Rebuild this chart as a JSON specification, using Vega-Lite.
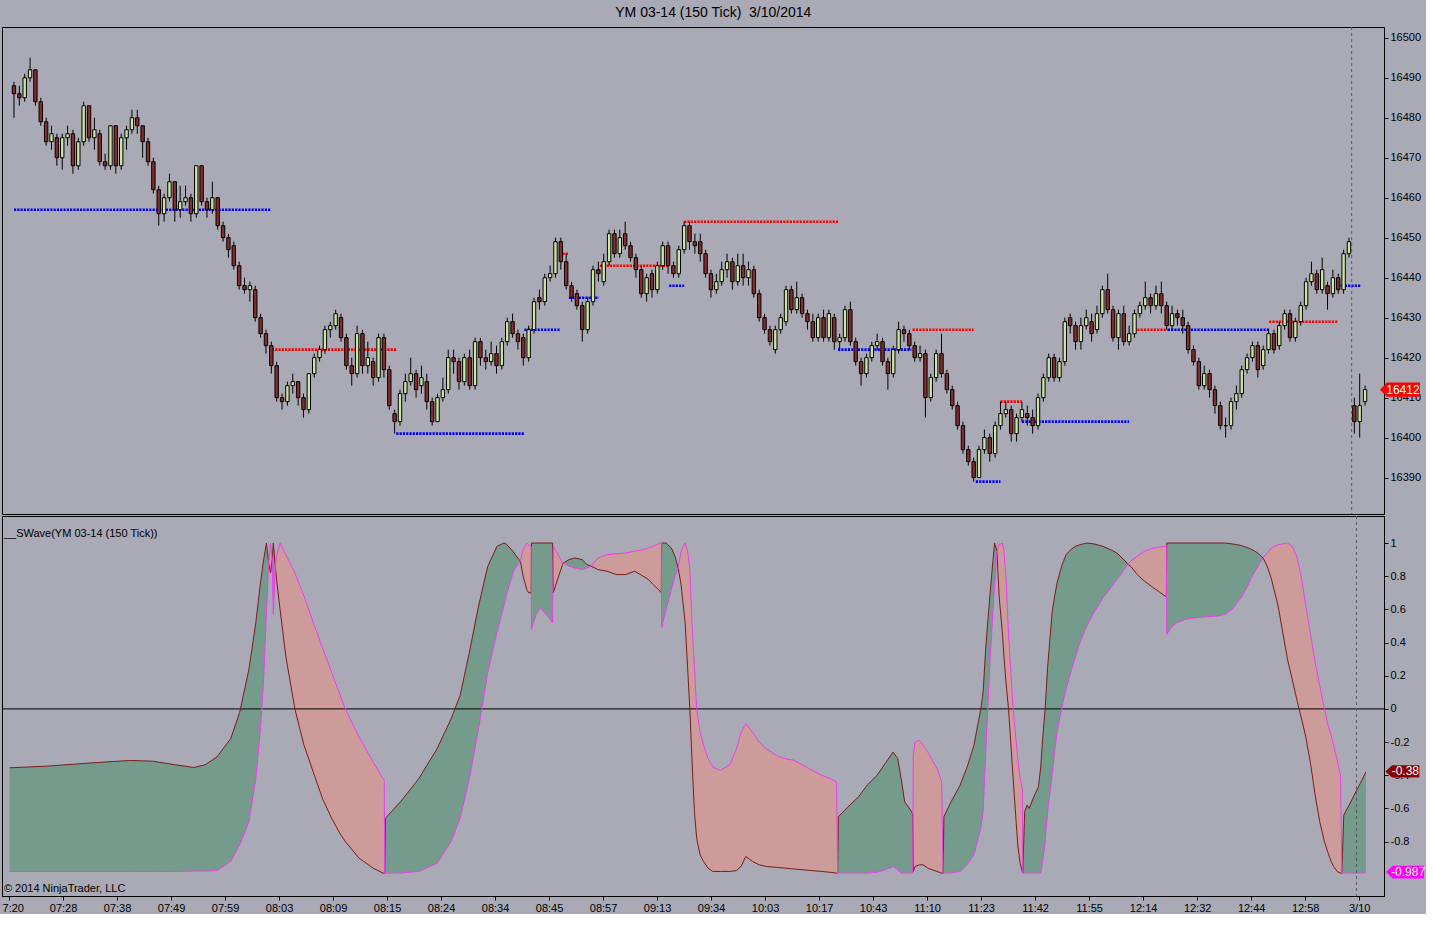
{
  "$schema": "https://vega.github.io/schema/vega-lite/v6.json",
  "background": "#A9AAB5",
  "padding": {"left": 1, "top": 6, "right": 0, "bottom": 0},
  "title": {
    "text": "YM 03-14 (150 Tick) \u00a03/10/2014",
    "frame": "bounds",
    "anchor": "middle",
    "font": "Liberation Sans",
    "fontSize": 14,
    "fontWeight": "normal",
    "color": "#000",
    "offset": 6
  },
  "resolve": {"scale": {"color": "independent"}},
  "datasets": {
    "bars": [
      {"i":0,"o":16488,"h":16489,"l":16480,"c":16486},
      {"i":1,"o":16486,"h":16488,"l":16483,"c":16485},
      {"i":2,"o":16485,"h":16491,"l":16484,"c":16490},
      {"i":3,"o":16490,"h":16495,"l":16489,"c":16492},
      {"i":4,"o":16492,"h":16492,"l":16483,"c":16484},
      {"i":5,"o":16484,"h":16485,"l":16478,"c":16479},
      {"i":6,"o":16479,"h":16480,"l":16473,"c":16474},
      {"i":7,"o":16474,"h":16478,"l":16472,"c":16476},
      {"i":8,"o":16475,"h":16476,"l":16468,"c":16470},
      {"i":9,"o":16470,"h":16476,"l":16467,"c":16475},
      {"i":10,"o":16475,"h":16478,"l":16473,"c":16476},
      {"i":11,"o":16476,"h":16477,"l":16466,"c":16468},
      {"i":12,"o":16468,"h":16475,"l":16467,"c":16474},
      {"i":13,"o":16474,"h":16484,"l":16473,"c":16483},
      {"i":14,"o":16483,"h":16483,"l":16474,"c":16475},
      {"i":15,"o":16475,"h":16480,"l":16472,"c":16477},
      {"i":16,"o":16476,"h":16477,"l":16468,"c":16469},
      {"i":17,"o":16469,"h":16471,"l":16467,"c":16468},
      {"i":18,"o":16468,"h":16478,"l":16467,"c":16478},
      {"i":19,"o":16478,"h":16478,"l":16466,"c":16468},
      {"i":20,"o":16468,"h":16476,"l":16467,"c":16475},
      {"i":21,"o":16475,"h":16478,"l":16472,"c":16477},
      {"i":22,"o":16477,"h":16482,"l":16476,"c":16480},
      {"i":23,"o":16480,"h":16482,"l":16476,"c":16478},
      {"i":24,"o":16478,"h":16478,"l":16470,"c":16474},
      {"i":25,"o":16474,"h":16475,"l":16468,"c":16469},
      {"i":26,"o":16469,"h":16470,"l":16461,"c":16462},
      {"i":27,"o":16462,"h":16463,"l":16453,"c":16456},
      {"i":28,"o":16456,"h":16461,"l":16454,"c":16460},
      {"i":29,"o":16460,"h":16466,"l":16459,"c":16464},
      {"i":30,"o":16464,"h":16464,"l":16454,"c":16457},
      {"i":31,"o":16457,"h":16463,"l":16455,"c":16459},
      {"i":32,"o":16459,"h":16463,"l":16458,"c":16460},
      {"i":33,"o":16460,"h":16461,"l":16454,"c":16456},
      {"i":34,"o":16456,"h":16468,"l":16455,"c":16468},
      {"i":35,"o":16468,"h":16468,"l":16458,"c":16459},
      {"i":36,"o":16459,"h":16460,"l":16455,"c":16457},
      {"i":37,"o":16457,"h":16464,"l":16456,"c":16460},
      {"i":38,"o":16460,"h":16460,"l":16452,"c":16453},
      {"i":39,"o":16453,"h":16454,"l":16449,"c":16450},
      {"i":40,"o":16450,"h":16451,"l":16445,"c":16447},
      {"i":41,"o":16448,"h":16449,"l":16442,"c":16443},
      {"i":42,"o":16443,"h":16444,"l":16437,"c":16438},
      {"i":43,"o":16438,"h":16440,"l":16436,"c":16437},
      {"i":44,"o":16437,"h":16439,"l":16434,"c":16438},
      {"i":45,"o":16437,"h":16438,"l":16429,"c":16430},
      {"i":46,"o":16430,"h":16431,"l":16425,"c":16426},
      {"i":47,"o":16426,"h":16427,"l":16421,"c":16423},
      {"i":48,"o":16423,"h":16424,"l":16416,"c":16418},
      {"i":49,"o":16418,"h":16419,"l":16409,"c":16410},
      {"i":50,"o":16410,"h":16411,"l":16407,"c":16409},
      {"i":51,"o":16409,"h":16414,"l":16408,"c":16413},
      {"i":52,"o":16413,"h":16416,"l":16411,"c":16414},
      {"i":53,"o":16414,"h":16414,"l":16408,"c":16410},
      {"i":54,"o":16410,"h":16411,"l":16405,"c":16407},
      {"i":55,"o":16407,"h":16416,"l":16406,"c":16416},
      {"i":56,"o":16416,"h":16421,"l":16415,"c":16420},
      {"i":57,"o":16420,"h":16423,"l":16419,"c":16422},
      {"i":58,"o":16422,"h":16428,"l":16421,"c":16427},
      {"i":59,"o":16427,"h":16429,"l":16425,"c":16428},
      {"i":60,"o":16428,"h":16432,"l":16427,"c":16431},
      {"i":61,"o":16430,"h":16431,"l":16424,"c":16425},
      {"i":62,"o":16425,"h":16426,"l":16417,"c":16418},
      {"i":63,"o":16418,"h":16420,"l":16413,"c":16416},
      {"i":64,"o":16416,"h":16428,"l":16415,"c":16426},
      {"i":65,"o":16426,"h":16427,"l":16416,"c":16418},
      {"i":66,"o":16418,"h":16424,"l":16416,"c":16420},
      {"i":67,"o":16419,"h":16420,"l":16413,"c":16415},
      {"i":68,"o":16415,"h":16426,"l":16414,"c":16425},
      {"i":69,"o":16425,"h":16426,"l":16415,"c":16417},
      {"i":70,"o":16417,"h":16418,"l":16407,"c":16408},
      {"i":71,"o":16406,"h":16407,"l":16401,"c":16404},
      {"i":72,"o":16404,"h":16412,"l":16403,"c":16411},
      {"i":73,"o":16411,"h":16416,"l":16409,"c":16414},
      {"i":74,"o":16414,"h":16420,"l":16413,"c":16416},
      {"i":75,"o":16416,"h":16417,"l":16410,"c":16412},
      {"i":76,"o":16413,"h":16418,"l":16411,"c":16415},
      {"i":77,"o":16414,"h":16416,"l":16407,"c":16409},
      {"i":78,"o":16409,"h":16410,"l":16403,"c":16404},
      {"i":79,"o":16404,"h":16411,"l":16404,"c":16410},
      {"i":80,"o":16410,"h":16415,"l":16409,"c":16412},
      {"i":81,"o":16412,"h":16422,"l":16411,"c":16420},
      {"i":82,"o":16420,"h":16422,"l":16416,"c":16419},
      {"i":83,"o":16419,"h":16420,"l":16412,"c":16414},
      {"i":84,"o":16414,"h":16421,"l":16413,"c":16420},
      {"i":85,"o":16420,"h":16422,"l":16412,"c":16413},
      {"i":86,"o":16413,"h":16425,"l":16412,"c":16424},
      {"i":87,"o":16424,"h":16425,"l":16418,"c":16420},
      {"i":88,"o":16420,"h":16422,"l":16417,"c":16419},
      {"i":89,"o":16419,"h":16424,"l":16418,"c":16421},
      {"i":90,"o":16421,"h":16423,"l":16416,"c":16418},
      {"i":91,"o":16418,"h":16425,"l":16417,"c":16424},
      {"i":92,"o":16424,"h":16430,"l":16423,"c":16429},
      {"i":93,"o":16429,"h":16431,"l":16425,"c":16426},
      {"i":94,"o":16426,"h":16427,"l":16422,"c":16424},
      {"i":95,"o":16425,"h":16426,"l":16418,"c":16420},
      {"i":96,"o":16420,"h":16428,"l":16419,"c":16427},
      {"i":97,"o":16427,"h":16435,"l":16426,"c":16434},
      {"i":98,"o":16435,"h":16437,"l":16432,"c":16434},
      {"i":99,"o":16434,"h":16441,"l":16433,"c":16440},
      {"i":100,"o":16440,"h":16443,"l":16439,"c":16441},
      {"i":101,"o":16441,"h":16450,"l":16440,"c":16449},
      {"i":102,"o":16449,"h":16450,"l":16442,"c":16444},
      {"i":103,"o":16444,"h":16446,"l":16437,"c":16438},
      {"i":104,"o":16438,"h":16439,"l":16434,"c":16435},
      {"i":105,"o":16436,"h":16437,"l":16432,"c":16433},
      {"i":106,"o":16433,"h":16434,"l":16424,"c":16427},
      {"i":107,"o":16427,"h":16435,"l":16426,"c":16434},
      {"i":108,"o":16434,"h":16443,"l":16433,"c":16442},
      {"i":109,"o":16442,"h":16444,"l":16439,"c":16441},
      {"i":110,"o":16439,"h":16446,"l":16438,"c":16444},
      {"i":111,"o":16444,"h":16452,"l":16443,"c":16451},
      {"i":112,"o":16451,"h":16452,"l":16445,"c":16446},
      {"i":113,"o":16446,"h":16452,"l":16445,"c":16450},
      {"i":114,"o":16451,"h":16454,"l":16447,"c":16448},
      {"i":115,"o":16448,"h":16449,"l":16444,"c":16445},
      {"i":116,"o":16445,"h":16446,"l":16440,"c":16442},
      {"i":117,"o":16442,"h":16443,"l":16435,"c":16436},
      {"i":118,"o":16436,"h":16441,"l":16434,"c":16440},
      {"i":119,"o":16441,"h":16442,"l":16435,"c":16437},
      {"i":120,"o":16437,"h":16444,"l":16436,"c":16443},
      {"i":121,"o":16443,"h":16449,"l":16442,"c":16448},
      {"i":122,"o":16448,"h":16449,"l":16441,"c":16443},
      {"i":123,"o":16443,"h":16444,"l":16440,"c":16441},
      {"i":124,"o":16441,"h":16448,"l":16440,"c":16447},
      {"i":125,"o":16447,"h":16454,"l":16446,"c":16453},
      {"i":126,"o":16453,"h":16454,"l":16447,"c":16449},
      {"i":127,"o":16449,"h":16451,"l":16446,"c":16448},
      {"i":128,"o":16449,"h":16451,"l":16444,"c":16446},
      {"i":129,"o":16446,"h":16447,"l":16440,"c":16441},
      {"i":130,"o":16441,"h":16442,"l":16435,"c":16437},
      {"i":131,"o":16437,"h":16441,"l":16436,"c":16439},
      {"i":132,"o":16439,"h":16444,"l":16438,"c":16442},
      {"i":133,"o":16442,"h":16446,"l":16440,"c":16444},
      {"i":134,"o":16444,"h":16445,"l":16437,"c":16439},
      {"i":135,"o":16439,"h":16446,"l":16438,"c":16443},
      {"i":136,"o":16443,"h":16446,"l":16438,"c":16440},
      {"i":137,"o":16440,"h":16444,"l":16438,"c":16442},
      {"i":138,"o":16442,"h":16443,"l":16435,"c":16436},
      {"i":139,"o":16436,"h":16437,"l":16429,"c":16430},
      {"i":140,"o":16430,"h":16431,"l":16426,"c":16427},
      {"i":141,"o":16427,"h":16428,"l":16423,"c":16424},
      {"i":142,"o":16422,"h":16428,"l":16421,"c":16427},
      {"i":143,"o":16427,"h":16431,"l":16426,"c":16430},
      {"i":144,"o":16429,"h":16438,"l":16428,"c":16437},
      {"i":145,"o":16437,"h":16438,"l":16431,"c":16432},
      {"i":146,"o":16432,"h":16439,"l":16431,"c":16435},
      {"i":147,"o":16435,"h":16436,"l":16430,"c":16431},
      {"i":148,"o":16431,"h":16432,"l":16427,"c":16429},
      {"i":149,"o":16429,"h":16431,"l":16424,"c":16425},
      {"i":150,"o":16425,"h":16431,"l":16424,"c":16430},
      {"i":151,"o":16430,"h":16432,"l":16424,"c":16425},
      {"i":152,"o":16425,"h":16432,"l":16424,"c":16431},
      {"i":153,"o":16430,"h":16431,"l":16422,"c":16424},
      {"i":154,"o":16424,"h":16426,"l":16422,"c":16425},
      {"i":155,"o":16425,"h":16433,"l":16424,"c":16432},
      {"i":156,"o":16432,"h":16434,"l":16423,"c":16424},
      {"i":157,"o":16424,"h":16425,"l":16418,"c":16419},
      {"i":158,"o":16419,"h":16420,"l":16413,"c":16416},
      {"i":159,"o":16416,"h":16421,"l":16415,"c":16420},
      {"i":160,"o":16420,"h":16424,"l":16419,"c":16423},
      {"i":161,"o":16423,"h":16426,"l":16422,"c":16424},
      {"i":162,"o":16424,"h":16425,"l":16418,"c":16419},
      {"i":163,"o":16419,"h":16420,"l":16412,"c":16416},
      {"i":164,"o":16416,"h":16423,"l":16415,"c":16422},
      {"i":165,"o":16422,"h":16429,"l":16421,"c":16427},
      {"i":166,"o":16427,"h":16428,"l":16424,"c":16426},
      {"i":167,"o":16426,"h":16427,"l":16422,"c":16423},
      {"i":168,"o":16423,"h":16424,"l":16419,"c":16420},
      {"i":169,"o":16420,"h":16423,"l":16419,"c":16421},
      {"i":170,"o":16421,"h":16422,"l":16405,"c":16410},
      {"i":171,"o":16410,"h":16416,"l":16409,"c":16415},
      {"i":172,"o":16415,"h":16422,"l":16414,"c":16421},
      {"i":173,"o":16421,"h":16426,"l":16415,"c":16416},
      {"i":174,"o":16416,"h":16417,"l":16411,"c":16412},
      {"i":175,"o":16412,"h":16413,"l":16407,"c":16408},
      {"i":176,"o":16408,"h":16409,"l":16402,"c":16403},
      {"i":177,"o":16403,"h":16404,"l":16396,"c":16397},
      {"i":178,"o":16397,"h":16398,"l":16393,"c":16394},
      {"i":179,"o":16394,"h":16395,"l":16389,"c":16390},
      {"i":180,"o":16390,"h":16398,"l":16390,"c":16397},
      {"i":181,"o":16397,"h":16402,"l":16396,"c":16400},
      {"i":182,"o":16400,"h":16401,"l":16394,"c":16396},
      {"i":183,"o":16396,"h":16404,"l":16395,"c":16403},
      {"i":184,"o":16403,"h":16409,"l":16402,"c":16406},
      {"i":185,"o":16406,"h":16409,"l":16405,"c":16407},
      {"i":186,"o":16407,"h":16408,"l":16399,"c":16401},
      {"i":187,"o":16401,"h":16406,"l":16399,"c":16405},
      {"i":188,"o":16405,"h":16409,"l":16404,"c":16407},
      {"i":189,"o":16406,"h":16408,"l":16403,"c":16405},
      {"i":190,"o":16405,"h":16407,"l":16401,"c":16403},
      {"i":191,"o":16403,"h":16411,"l":16402,"c":16410},
      {"i":192,"o":16410,"h":16416,"l":16409,"c":16415},
      {"i":193,"o":16415,"h":16421,"l":16414,"c":16420},
      {"i":194,"o":16420,"h":16421,"l":16414,"c":16415},
      {"i":195,"o":16415,"h":16420,"l":16414,"c":16419},
      {"i":196,"o":16419,"h":16430,"l":16418,"c":16429},
      {"i":197,"o":16430,"h":16431,"l":16426,"c":16428},
      {"i":198,"o":16428,"h":16429,"l":16422,"c":16424},
      {"i":199,"o":16424,"h":16430,"l":16422,"c":16428},
      {"i":200,"o":16428,"h":16432,"l":16427,"c":16430},
      {"i":201,"o":16429,"h":16431,"l":16424,"c":16426},
      {"i":202,"o":16427,"h":16433,"l":16426,"c":16431},
      {"i":203,"o":16431,"h":16438,"l":16430,"c":16437},
      {"i":204,"o":16437,"h":16441,"l":16431,"c":16432},
      {"i":205,"o":16432,"h":16433,"l":16424,"c":16425},
      {"i":206,"o":16425,"h":16432,"l":16422,"c":16431},
      {"i":207,"o":16431,"h":16433,"l":16423,"c":16424},
      {"i":208,"o":16424,"h":16428,"l":16423,"c":16426},
      {"i":209,"o":16426,"h":16432,"l":16425,"c":16431},
      {"i":210,"o":16431,"h":16434,"l":16430,"c":16433},
      {"i":211,"o":16433,"h":16439,"l":16432,"c":16435},
      {"i":212,"o":16435,"h":16436,"l":16431,"c":16433},
      {"i":213,"o":16433,"h":16438,"l":16432,"c":16436},
      {"i":214,"o":16436,"h":16439,"l":16431,"c":16433},
      {"i":215,"o":16433,"h":16434,"l":16427,"c":16428},
      {"i":216,"o":16428,"h":16433,"l":16427,"c":16431},
      {"i":217,"o":16431,"h":16432,"l":16428,"c":16430},
      {"i":218,"o":16430,"h":16432,"l":16426,"c":16428},
      {"i":219,"o":16428,"h":16429,"l":16421,"c":16422},
      {"i":220,"o":16422,"h":16423,"l":16418,"c":16419},
      {"i":221,"o":16419,"h":16420,"l":16412,"c":16413},
      {"i":222,"o":16413,"h":16418,"l":16412,"c":16416},
      {"i":223,"o":16416,"h":16417,"l":16410,"c":16412},
      {"i":224,"o":16412,"h":16413,"l":16406,"c":16408},
      {"i":225,"o":16408,"h":16409,"l":16402,"c":16403},
      {"i":226,"o":16403,"h":16405,"l":16400,"c":16403},
      {"i":227,"o":16403,"h":16410,"l":16402,"c":16409},
      {"i":228,"o":16409,"h":16413,"l":16407,"c":16411},
      {"i":229,"o":16411,"h":16418,"l":16410,"c":16417},
      {"i":230,"o":16417,"h":16421,"l":16416,"c":16420},
      {"i":231,"o":16420,"h":16424,"l":16419,"c":16423},
      {"i":232,"o":16423,"h":16424,"l":16415,"c":16417},
      {"i":233,"o":16418,"h":16423,"l":16417,"c":16422},
      {"i":234,"o":16422,"h":16427,"l":16421,"c":16426},
      {"i":235,"o":16426,"h":16427,"l":16421,"c":16422},
      {"i":236,"o":16423,"h":16429,"l":16422,"c":16428},
      {"i":237,"o":16428,"h":16432,"l":16427,"c":16431},
      {"i":238,"o":16431,"h":16432,"l":16424,"c":16425},
      {"i":239,"o":16425,"h":16430,"l":16424,"c":16429},
      {"i":240,"o":16429,"h":16434,"l":16428,"c":16433},
      {"i":241,"o":16433,"h":16440,"l":16432,"c":16439},
      {"i":242,"o":16439,"h":16444,"l":16438,"c":16441},
      {"i":243,"o":16441,"h":16442,"l":16436,"c":16437},
      {"i":244,"o":16437,"h":16445,"l":16436,"c":16442},
      {"i":245,"o":16438,"h":16439,"l":16432,"c":16436},
      {"i":246,"o":16436,"h":16442,"l":16435,"c":16440},
      {"i":247,"o":16440,"h":16441,"l":16436,"c":16437},
      {"i":248,"o":16437,"h":16447,"l":16436,"c":16446},
      {"i":249,"o":16446,"h":16450,"l":16445,"c":16449},
      {"i":250,"o":16408,"h":16410,"l":16401,"c":16404},
      {"i":251,"o":16404,"h":16416,"l":16400,"c":16408},
      {"i":252,"o":16409,"h":16413,"l":16408,"c":16412}
    ],
    "levels": [
      {"x1":0,"x2":48,"y":16457,"t":"s"},
      {"x1":48.1,"x2":71.3,"y":16422,"t":"r"},
      {"x1":71.3,"x2":95.2,"y":16401,"t":"s"},
      {"x1":95.2,"x2":101.9,"y":16427,"t":"s"},
      {"x1":101.7,"x2":103.5,"y":16446,"t":"r"},
      {"x1":103.5,"x2":109.1,"y":16435,"t":"s"},
      {"x1":109.3,"x2":122.2,"y":16443,"t":"r"},
      {"x1":122.2,"x2":125,"y":16438,"t":"s"},
      {"x1":125,"x2":153.7,"y":16454,"t":"r"},
      {"x1":153.7,"x2":167.4,"y":16422,"t":"s"},
      {"x1":167.6,"x2":179,"y":16427,"t":"r"},
      {"x1":179.4,"x2":184,"y":16389,"t":"s"},
      {"x1":184,"x2":188,"y":16409,"t":"r"},
      {"x1":188,"x2":208,"y":16404,"t":"s"},
      {"x1":208.9,"x2":215.2,"y":16427,"t":"r"},
      {"x1":215.2,"x2":234.1,"y":16427,"t":"s"},
      {"x1":234.1,"x2":247,"y":16429,"t":"r"},
      {"x1":247,"x2":251.3,"y":16438,"t":"s"}
    ],
    "osc": [
      {"i":0.1,"a":-0.355,"b":-0.98,"k":"g","s":1},
      {"i":7.04,"a":-0.345,"b":-0.98,"k":"g","s":1},
      {"i":15.56,"a":-0.325,"b":-0.98,"k":"g","s":1},
      {"i":22.33,"a":-0.311,"b":-0.98,"k":"g","s":1},
      {"i":26.57,"a":-0.315,"b":-0.98,"k":"g","s":1},
      {"i":30.83,"a":-0.337,"b":-0.98,"k":"g","s":1},
      {"i":34.22,"a":-0.353,"b":-0.978,"k":"g","s":1},
      {"i":36.3,"a":-0.337,"b":-0.978,"k":"g","s":1},
      {"i":38.48,"a":-0.29,"b":-0.975,"k":"g","s":1},
      {"i":41.04,"a":-0.18,"b":-0.92,"k":"g","s":1},
      {"i":42.72,"a":-0.02,"b":-0.82,"k":"g","s":1},
      {"i":44.43,"a":0.24,"b":-0.68,"k":"g","s":1},
      {"i":45.7,"a":0.52,"b":-0.42,"k":"g","s":1},
      {"i":46.56,"a":0.76,"b":-0.12,"k":"g","s":1},
      {"i":47.15,"a":0.9,"b":0.18,"k":"g","s":1},
      {"i":47.67,"a":1.0,"b":0.58,"k":"g","s":1},
      {"i":48.06,"a":0.88,"b":0.88,"k":"g","s":1},
      {"i":48.06,"a":0.88,"b":0.88,"k":"p","s":2},
      {"i":48.43,"a":0.82,"b":1.0,"k":"p","s":2},
      {"i":48.74,"a":0.9,"b":0.9,"k":"p","s":2},
      {"i":48.74,"a":0.9,"b":0.9,"k":"g","s":3},
      {"i":48.94,"a":1.0,"b":0.57,"k":"g","s":3},
      {"i":49.31,"a":0.86,"b":0.86,"k":"g","s":3},
      {"i":49.31,"a":0.86,"b":0.86,"k":"p","s":4},
      {"i":49.54,"a":0.78,"b":0.92,"k":"p","s":4},
      {"i":50.19,"a":0.6,"b":1.0,"k":"p","s":4},
      {"i":51.24,"a":0.32,"b":0.93,"k":"p","s":4},
      {"i":52.93,"a":0.0,"b":0.82,"k":"p","s":4},
      {"i":54.63,"a":-0.22,"b":0.68,"k":"p","s":4},
      {"i":56.33,"a":-0.38,"b":0.52,"k":"p","s":4},
      {"i":58.04,"a":-0.54,"b":0.37,"k":"p","s":4},
      {"i":59.74,"a":-0.66,"b":0.22,"k":"p","s":4},
      {"i":61.44,"a":-0.76,"b":0.07,"k":"p","s":4},
      {"i":62.28,"a":-0.8,"b":0.0,"k":"p","s":4},
      {"i":64.81,"a":-0.9,"b":-0.17,"k":"p","s":4},
      {"i":65.69,"a":-0.92,"b":-0.22,"k":"p","s":4},
      {"i":67.41,"a":-0.96,"b":-0.32,"k":"p","s":4},
      {"i":69.26,"a":-0.99,"b":-0.42,"k":"p","s":4},
      {"i":69.48,"a":-0.99,"b":-0.43,"k":"p","s":4},
      {"i":69.56,"a":-0.99,"b":-0.99,"k":"p","s":4},
      {"i":69.56,"a":-0.99,"b":-0.99,"k":"g","s":5},
      {"i":69.69,"a":-0.66,"b":-0.99,"k":"g","s":5},
      {"i":72.48,"a":-0.56,"b":-0.99,"k":"g","s":5},
      {"i":75.89,"a":-0.42,"b":-0.98,"k":"g","s":5},
      {"i":79.26,"a":-0.24,"b":-0.93,"k":"g","s":5},
      {"i":81.85,"a":-0.06,"b":-0.8,"k":"g","s":5},
      {"i":83.52,"a":0.08,"b":-0.66,"k":"g","s":5},
      {"i":85.24,"a":0.34,"b":-0.42,"k":"g","s":5},
      {"i":86.94,"a":0.62,"b":-0.12,"k":"g","s":5},
      {"i":88.65,"a":0.86,"b":0.22,"k":"g","s":5},
      {"i":90.35,"a":0.98,"b":0.46,"k":"g","s":5},
      {"i":91.63,"a":1.0,"b":0.62,"k":"g","s":5},
      {"i":92.04,"a":0.995,"b":0.68,"k":"g","s":5},
      {"i":93.33,"a":0.95,"b":0.82,"k":"g","s":5},
      {"i":93.74,"a":0.93,"b":0.85,"k":"g","s":5},
      {"i":94.69,"a":0.89,"b":0.89,"k":"g","s":5},
      {"i":94.69,"a":0.89,"b":0.89,"k":"p","s":6},
      {"i":95.19,"a":0.8,"b":0.96,"k":"p","s":6},
      {"i":95.87,"a":0.72,"b":1.0,"k":"p","s":6},
      {"i":96.2,"a":0.7,"b":0.99,"k":"p","s":6},
      {"i":96.7,"a":0.7,"b":0.98,"k":"p","s":6},
      {"i":96.74,"a":1.0,"b":0.48,"k":"g","s":7},
      {"i":97.59,"a":1.0,"b":0.57,"k":"g","s":7},
      {"i":98.43,"a":1.0,"b":0.61,"k":"g","s":7},
      {"i":99.44,"a":1.0,"b":0.57,"k":"g","s":7},
      {"i":100.65,"a":1.0,"b":0.52,"k":"g","s":7},
      {"i":100.78,"a":0.7,"b":0.98,"k":"p","s":8},
      {"i":101.67,"a":0.79,"b":0.93,"k":"p","s":8},
      {"i":102.5,"a":0.87,"b":0.88,"k":"p","s":8},
      {"i":102.67,"a":0.88,"b":0.88,"k":"p","s":8},
      {"i":102.67,"a":0.88,"b":0.88,"k":"g","s":9},
      {"i":103.7,"a":0.9,"b":0.86,"k":"g","s":9},
      {"i":104.81,"a":0.91,"b":0.85,"k":"g","s":9},
      {"i":106.11,"a":0.9,"b":0.84,"k":"g","s":9},
      {"i":107.04,"a":0.87,"b":0.85,"k":"g","s":9},
      {"i":107.78,"a":0.86,"b":0.86,"k":"g","s":9},
      {"i":107.78,"a":0.86,"b":0.86,"k":"p","s":10},
      {"i":109.07,"a":0.84,"b":0.91,"k":"p","s":10},
      {"i":110.74,"a":0.83,"b":0.93,"k":"p","s":10},
      {"i":112.41,"a":0.81,"b":0.935,"k":"p","s":10},
      {"i":114.15,"a":0.81,"b":0.94,"k":"p","s":10},
      {"i":115.85,"a":0.83,"b":0.95,"k":"p","s":10},
      {"i":117.41,"a":0.8,"b":0.96,"k":"p","s":10},
      {"i":118.41,"a":0.78,"b":0.97,"k":"p","s":10},
      {"i":119.26,"a":0.75,"b":0.98,"k":"p","s":10},
      {"i":120.54,"a":0.71,"b":1.0,"k":"p","s":10},
      {"i":120.78,"a":0.7,"b":1.0,"k":"p","s":10},
      {"i":120.85,"a":1.0,"b":0.49,"k":"g","s":11},
      {"i":121.67,"a":1.0,"b":0.6,"k":"g","s":11},
      {"i":122.65,"a":0.97,"b":0.72,"k":"g","s":11},
      {"i":123.33,"a":0.92,"b":0.8,"k":"g","s":11},
      {"i":123.89,"a":0.85,"b":0.85,"k":"g","s":11},
      {"i":123.89,"a":0.85,"b":0.85,"k":"p","s":12},
      {"i":124.44,"a":0.75,"b":0.95,"k":"p","s":12},
      {"i":125.19,"a":0.52,"b":1.0,"k":"p","s":12},
      {"i":125.65,"a":0.25,"b":0.95,"k":"p","s":12},
      {"i":126.06,"a":0.0,"b":0.84,"k":"p","s":12},
      {"i":126.48,"a":-0.32,"b":0.5,"k":"p","s":12},
      {"i":126.91,"a":-0.62,"b":0.25,"k":"p","s":12},
      {"i":127.33,"a":-0.78,"b":0.0,"k":"p","s":12},
      {"i":127.96,"a":-0.88,"b":-0.14,"k":"p","s":12},
      {"i":128.61,"a":-0.92,"b":-0.22,"k":"p","s":12},
      {"i":129.44,"a":-0.96,"b":-0.3,"k":"p","s":12},
      {"i":130.3,"a":-0.98,"b":-0.35,"k":"p","s":12},
      {"i":131.7,"a":-0.98,"b":-0.37,"k":"p","s":12},
      {"i":133.41,"a":-0.98,"b":-0.34,"k":"p","s":12},
      {"i":134.7,"a":-0.975,"b":-0.24,"k":"p","s":12},
      {"i":135.56,"a":-0.95,"b":-0.14,"k":"p","s":12},
      {"i":136.41,"a":-0.89,"b":-0.09,"k":"p","s":12},
      {"i":137.69,"a":-0.92,"b":-0.14,"k":"p","s":12},
      {"i":138.89,"a":-0.94,"b":-0.2,"k":"p","s":12},
      {"i":140.24,"a":-0.95,"b":-0.24,"k":"p","s":12},
      {"i":142.04,"a":-0.955,"b":-0.28,"k":"p","s":12},
      {"i":143.67,"a":-0.96,"b":-0.3,"k":"p","s":12},
      {"i":145.37,"a":-0.965,"b":-0.31,"k":"p","s":12},
      {"i":147.07,"a":-0.97,"b":-0.34,"k":"p","s":12},
      {"i":148.7,"a":-0.975,"b":-0.37,"k":"p","s":12},
      {"i":150.48,"a":-0.98,"b":-0.4,"k":"p","s":12},
      {"i":152.04,"a":-0.985,"b":-0.42,"k":"p","s":12},
      {"i":153.22,"a":-0.99,"b":-0.44,"k":"p","s":12},
      {"i":153.43,"a":-0.99,"b":-0.99,"k":"p","s":12},
      {"i":153.43,"a":-0.99,"b":-0.99,"k":"g","s":13},
      {"i":153.56,"a":-0.65,"b":-0.99,"k":"g","s":13},
      {"i":155.37,"a":-0.59,"b":-0.99,"k":"g","s":13},
      {"i":157.31,"a":-0.53,"b":-0.99,"k":"g","s":13},
      {"i":158.89,"a":-0.46,"b":-0.99,"k":"g","s":13},
      {"i":160.74,"a":-0.4,"b":-0.985,"k":"g","s":13},
      {"i":162.22,"a":-0.33,"b":-0.97,"k":"g","s":13},
      {"i":163.7,"a":-0.26,"b":-0.95,"k":"g","s":13},
      {"i":164.57,"a":-0.3,"b":-0.97,"k":"g","s":13},
      {"i":165.19,"a":-0.42,"b":-0.99,"k":"g","s":13},
      {"i":165.85,"a":-0.56,"b":-0.99,"k":"g","s":13},
      {"i":167.15,"a":-0.62,"b":-0.99,"k":"g","s":13},
      {"i":167.33,"a":-0.64,"b":-0.99,"k":"g","s":13},
      {"i":167.44,"a":-0.98,"b":-0.28,"k":"p","s":14},
      {"i":167.78,"a":-0.95,"b":-0.2,"k":"p","s":14},
      {"i":168.59,"a":-0.94,"b":-0.19,"k":"p","s":14},
      {"i":169.26,"a":-0.94,"b":-0.22,"k":"p","s":14},
      {"i":170.13,"a":-0.96,"b":-0.26,"k":"p","s":14},
      {"i":170.98,"a":-0.97,"b":-0.31,"k":"p","s":14},
      {"i":171.83,"a":-0.98,"b":-0.36,"k":"p","s":14},
      {"i":172.69,"a":-0.99,"b":-0.44,"k":"p","s":14},
      {"i":172.96,"a":-0.99,"b":-0.99,"k":"p","s":14},
      {"i":172.96,"a":-0.99,"b":-0.99,"k":"g","s":15},
      {"i":173.11,"a":-0.65,"b":-0.99,"k":"g","s":15},
      {"i":174.44,"a":-0.56,"b":-0.99,"k":"g","s":15},
      {"i":176.11,"a":-0.46,"b":-0.98,"k":"g","s":15},
      {"i":177.41,"a":-0.35,"b":-0.94,"k":"g","s":15},
      {"i":178.67,"a":-0.22,"b":-0.88,"k":"g","s":15},
      {"i":179.94,"a":0.0,"b":-0.72,"k":"g","s":15},
      {"i":180.37,"a":0.1,"b":-0.62,"k":"g","s":15},
      {"i":180.8,"a":0.34,"b":-0.3,"k":"g","s":15},
      {"i":181.22,"a":0.52,"b":0.0,"k":"g","s":15},
      {"i":181.67,"a":0.7,"b":0.3,"k":"g","s":15},
      {"i":182.07,"a":0.85,"b":0.52,"k":"g","s":15},
      {"i":182.5,"a":1.0,"b":0.75,"k":"g","s":15},
      {"i":182.93,"a":0.95,"b":0.95,"k":"g","s":15},
      {"i":182.93,"a":0.95,"b":0.95,"k":"p","s":16},
      {"i":183.33,"a":0.68,"b":0.99,"k":"p","s":16},
      {"i":183.96,"a":0.45,"b":1.0,"k":"p","s":16},
      {"i":184.22,"a":0.32,"b":0.95,"k":"p","s":16},
      {"i":184.63,"a":0.15,"b":0.78,"k":"p","s":16},
      {"i":185.07,"a":0.0,"b":0.45,"k":"p","s":16},
      {"i":185.93,"a":-0.42,"b":0.0,"k":"p","s":16},
      {"i":186.78,"a":-0.82,"b":-0.3,"k":"p","s":16},
      {"i":187.22,"a":-0.93,"b":-0.42,"k":"p","s":16},
      {"i":187.63,"a":-0.98,"b":-0.48,"k":"p","s":16},
      {"i":187.72,"a":-0.99,"b":-0.99,"k":"p","s":16},
      {"i":187.72,"a":-0.99,"b":-0.99,"k":"g","s":17},
      {"i":188.06,"a":-0.62,"b":-0.99,"k":"g","s":17},
      {"i":188.52,"a":-0.58,"b":-0.99,"k":"g","s":17},
      {"i":188.89,"a":-0.6,"b":-0.99,"k":"g","s":17},
      {"i":189.76,"a":-0.53,"b":-0.99,"k":"g","s":17},
      {"i":190.61,"a":-0.47,"b":-0.99,"k":"g","s":17},
      {"i":191.04,"a":-0.35,"b":-0.99,"k":"g","s":17},
      {"i":191.39,"a":-0.18,"b":-0.92,"k":"g","s":17},
      {"i":191.85,"a":0.0,"b":-0.8,"k":"g","s":17},
      {"i":192.31,"a":0.25,"b":-0.62,"k":"g","s":17},
      {"i":193.15,"a":0.58,"b":-0.4,"k":"g","s":17},
      {"i":193.61,"a":0.68,"b":-0.26,"k":"g","s":17},
      {"i":194.07,"a":0.76,"b":-0.14,"k":"g","s":17},
      {"i":194.89,"a":0.86,"b":0.0,"k":"g","s":17},
      {"i":195.74,"a":0.93,"b":0.12,"k":"g","s":17},
      {"i":196.59,"a":0.96,"b":0.22,"k":"g","s":17},
      {"i":197.44,"a":0.98,"b":0.31,"k":"g","s":17},
      {"i":198.3,"a":0.99,"b":0.4,"k":"g","s":17},
      {"i":199.57,"a":1.0,"b":0.5,"k":"g","s":17},
      {"i":200.87,"a":0.995,"b":0.58,"k":"g","s":17},
      {"i":202.57,"a":0.98,"b":0.67,"k":"g","s":17},
      {"i":204.26,"a":0.955,"b":0.74,"k":"g","s":17},
      {"i":205.13,"a":0.94,"b":0.78,"k":"g","s":17},
      {"i":206.11,"a":0.91,"b":0.82,"k":"g","s":17},
      {"i":206.85,"a":0.885,"b":0.86,"k":"g","s":17},
      {"i":207.22,"a":0.87,"b":0.87,"k":"g","s":17},
      {"i":207.22,"a":0.87,"b":0.87,"k":"p","s":18},
      {"i":207.69,"a":0.86,"b":0.89,"k":"p","s":18},
      {"i":208.89,"a":0.81,"b":0.92,"k":"p","s":18},
      {"i":210.26,"a":0.77,"b":0.95,"k":"p","s":18},
      {"i":211.48,"a":0.74,"b":0.965,"k":"p","s":18},
      {"i":212.78,"a":0.71,"b":0.975,"k":"p","s":18},
      {"i":214.07,"a":0.68,"b":0.98,"k":"p","s":18},
      {"i":214.3,"a":0.68,"b":0.985,"k":"p","s":18},
      {"i":214.37,"a":1.0,"b":0.45,"k":"g","s":19},
      {"i":215.19,"a":1.0,"b":0.49,"k":"g","s":19},
      {"i":216.22,"a":1.0,"b":0.52,"k":"g","s":19},
      {"i":217.96,"a":1.0,"b":0.54,"k":"g","s":19},
      {"i":219.63,"a":1.0,"b":0.55,"k":"g","s":19},
      {"i":221.67,"a":1.0,"b":0.555,"k":"g","s":19},
      {"i":223.89,"a":1.0,"b":0.56,"k":"g","s":19},
      {"i":225.19,"a":1.0,"b":0.57,"k":"g","s":19},
      {"i":226.48,"a":0.995,"b":0.6,"k":"g","s":19},
      {"i":227.33,"a":0.99,"b":0.64,"k":"g","s":19},
      {"i":228.15,"a":0.985,"b":0.67,"k":"g","s":19},
      {"i":229.04,"a":0.975,"b":0.72,"k":"g","s":19},
      {"i":229.89,"a":0.965,"b":0.78,"k":"g","s":19},
      {"i":230.74,"a":0.95,"b":0.83,"k":"g","s":19},
      {"i":231.59,"a":0.93,"b":0.88,"k":"g","s":19},
      {"i":232.22,"a":0.91,"b":0.91,"k":"g","s":19},
      {"i":232.22,"a":0.91,"b":0.91,"k":"p","s":20},
      {"i":232.96,"a":0.86,"b":0.94,"k":"p","s":20},
      {"i":233.7,"a":0.79,"b":0.97,"k":"p","s":20},
      {"i":235.0,"a":0.62,"b":0.99,"k":"p","s":20},
      {"i":236.72,"a":0.3,"b":1.0,"k":"p","s":20},
      {"i":237.59,"a":0.18,"b":0.98,"k":"p","s":20},
      {"i":238.43,"a":0.06,"b":0.92,"k":"p","s":20},
      {"i":239.26,"a":-0.05,"b":0.8,"k":"p","s":20},
      {"i":240.13,"a":-0.17,"b":0.62,"k":"p","s":20},
      {"i":241.0,"a":-0.33,"b":0.45,"k":"p","s":20},
      {"i":241.85,"a":-0.52,"b":0.28,"k":"p","s":20},
      {"i":242.7,"a":-0.68,"b":0.14,"k":"p","s":20},
      {"i":243.56,"a":-0.8,"b":0.0,"k":"p","s":20},
      {"i":244.26,"a":-0.87,"b":-0.1,"k":"p","s":20},
      {"i":244.81,"a":-0.92,"b":-0.16,"k":"p","s":20},
      {"i":245.26,"a":-0.95,"b":-0.22,"k":"p","s":20},
      {"i":245.93,"a":-0.98,"b":-0.31,"k":"p","s":20},
      {"i":246.54,"a":-0.99,"b":-0.4,"k":"p","s":20},
      {"i":246.8,"a":-0.99,"b":-0.99,"k":"p","s":20},
      {"i":246.8,"a":-0.99,"b":-0.99,"k":"g","s":21},
      {"i":247.15,"a":-0.64,"b":-0.99,"k":"g","s":21},
      {"i":248.15,"a":-0.58,"b":-0.99,"k":"g","s":21},
      {"i":249.07,"a":-0.52,"b":-0.99,"k":"g","s":21},
      {"i":250.19,"a":-0.45,"b":-0.99,"k":"g","s":21},
      {"i":251.24,"a":-0.38,"b":-0.987,"k":"g","s":21}
    ]
  },
  "spacing": 0,
  "vconcat": [
    {
      "width": 1382,
      "height": 487,
      "layer": [
        {
          "data": {"name": "levels"},
          "mark": {"type": "rule", "strokeDash": [2.2, 1.1], "strokeWidth": 2.6},
          "encoding": {
            "x": {"field": "x1", "type": "quantitative", "scale": {"domain": [-1.3, 254.6], "nice": false, "zero": false}, "axis": null},
            "x2": {"field": "x2"},
            "y": {
              "field": "y", "type": "quantitative",
              "scale": {"domain": [16380.9, 16502.7], "nice": false, "zero": false},
              "axis": {
                "orient": "right", "title": null,
                "values": [16390, 16400, 16410, 16420, 16430, 16440, 16450, 16460, 16470, 16480, 16490, 16500],
                "labelExpr": "'' + datum.value"
              }
            },
            "color": {"condition": {"test": "datum.t === 'r'", "value": "#FF0000"}, "value": "#0000FF"}
          }
        },
        {
          "data": {"name": "bars"},
          "mark": {"type": "rule", "color": "#000", "strokeWidth": 1},
          "encoding": {
            "x": {"field": "i", "type": "quantitative", "scale": {"domain": [-1.3, 254.6], "nice": false, "zero": false}},
            "y": {"field": "l", "type": "quantitative", "scale": {"domain": [16380.9, 16502.7], "nice": false, "zero": false}},
            "y2": {"field": "h"}
          }
        },
        {
          "data": {"name": "bars"},
          "mark": {"type": "bar", "orient": "vertical", "width": 3.4, "stroke": "#000", "strokeWidth": 1},
          "encoding": {
            "x": {"field": "i", "type": "quantitative", "scale": {"domain": [-1.3, 254.6], "nice": false, "zero": false}},
            "y": {"field": "o", "type": "quantitative", "scale": {"domain": [16380.9, 16502.7], "nice": false, "zero": false}},
            "y2": {"field": "c"},
            "fill": {"condition": {"test": "datum.c >= datum.o", "value": "#CDE5A0"}, "value": "#862B2B"}
          }
        },
        {
          "data": {"values": [{"v": 249.5}]},
          "mark": {"type": "rule", "color": "#5A5A64", "strokeDash": [3, 3], "strokeWidth": 1},
          "encoding": {
            "x": {"field": "v", "type": "quantitative", "scale": {"domain": [-1.3, 254.6], "nice": false, "zero": false}}
          }
        },
        {
          "data": {"values": [{"i": 258.5, "p": 16412}]},
          "mark": {"type": "point", "shape": "M-1,0L-0.65,-0.36L1,-0.36L1,0.36L-0.65,0.36Z", "size": 1600, "filled": true, "color": "#FF0000", "opacity": 1},
          "encoding": {
            "x": {"field": "i", "type": "quantitative", "scale": {"domain": [-1.3, 254.6], "nice": false, "zero": false}},
            "y": {"field": "p", "type": "quantitative", "scale": {"domain": [16380.9, 16502.7], "nice": false, "zero": false}}
          }
        },
        {
          "data": {"values": [{"i": 258.5, "p": 16412}]},
          "mark": {"type": "text", "color": "#FFFFFF", "font": "Liberation Sans", "fontSize": 12, "dx": 3},
          "encoding": {
            "x": {"field": "i", "type": "quantitative", "scale": {"domain": [-1.3, 254.6], "nice": false, "zero": false}},
            "y": {"field": "p", "type": "quantitative", "scale": {"domain": [16380.9, 16502.7], "nice": false, "zero": false}},
            "text": {"field": "p", "type": "quantitative", "format": "d"}
          }
        }
      ]
    },
    {
      "width": 1382,
      "height": 380,
      "layer": [
        {
          "data": {"name": "osc"},
          "mark": {"type": "area", "opacity": 1},
          "encoding": {
            "x": {
              "field": "i", "type": "quantitative",
              "scale": {"domain": [-1.3, 254.6], "nice": false, "zero": false},
              "axis": {
                "title": null,
                "values": [0, 10, 20, 30, 40, 50, 60, 70, 80, 90, 100, 110, 120, 130, 140, 150, 160, 170, 180, 190, 200, 210, 220, 230, 240, 250],
                "labelExpr": "['7:20','07:28','07:38','07:49','07:59','08:03','08:09','08:15','08:24','08:34','08:45','08:57','09:13','09:34','10:03','10:17','10:43','11:10','11:23','11:42','11:55','12:14','12:32','12:44','12:58','3/10'][round(datum.value / 10)]",
                "labelFlush": 12,
                "labelFlushOffset": 7
              }
            },
            "y": {
              "field": "a", "type": "quantitative", "stack": null,
              "scale": {"domain": [-1.128, 1.163], "nice": false, "zero": false},
              "axis": {
                "orient": "right", "title": null,
                "values": [-0.8, -0.6, -0.4, -0.2, 0, 0.2, 0.4, 0.6, 0.8, 1],
                "labelExpr": "'' + datum.value"
              }
            },
            "y2": {"field": "b"},
            "color": {"field": "k", "type": "nominal", "scale": {"domain": ["g", "p"], "range": ["#749B8C", "#CE9B9B"]}, "legend": null},
            "detail": {"field": "s", "type": "nominal"}
          }
        },
        {
          "data": {"values": [{"z": 0}]},
          "mark": {"type": "rule", "color": "#000", "strokeWidth": 1},
          "encoding": {
            "y": {"field": "z", "type": "quantitative", "scale": {"domain": [-1.128, 1.163], "nice": false, "zero": false}}
          }
        },
        {
          "data": {"name": "osc"},
          "mark": {"type": "line", "color": "#7A1C1C", "strokeWidth": 1},
          "encoding": {
            "x": {"field": "i", "type": "quantitative", "scale": {"domain": [-1.3, 254.6], "nice": false, "zero": false}},
            "y": {"field": "a", "type": "quantitative", "scale": {"domain": [-1.128, 1.163], "nice": false, "zero": false}}
          }
        },
        {
          "data": {"name": "osc"},
          "mark": {"type": "line", "color": "#F03CF0", "strokeWidth": 1},
          "encoding": {
            "x": {"field": "i", "type": "quantitative", "scale": {"domain": [-1.3, 254.6], "nice": false, "zero": false}},
            "y": {"field": "b", "type": "quantitative", "scale": {"domain": [-1.128, 1.163], "nice": false, "zero": false}}
          }
        },
        {
          "data": {"values": [{"v": 249.5}]},
          "mark": {"type": "rule", "color": "#5A5A64", "strokeDash": [3, 3], "strokeWidth": 1},
          "encoding": {
            "x": {"field": "v", "type": "quantitative", "scale": {"domain": [-1.3, 254.6], "nice": false, "zero": false}}
          }
        },
        {
          "data": {"values": [{"t": "__SWave(YM 03-14 (150 Tick))"}]},
          "mark": {"type": "text", "align": "left", "baseline": "middle", "font": "Liberation Sans", "fontSize": 11, "color": "#000"},
          "encoding": {
            "x": {"datum": -0.95, "type": "quantitative", "scale": {"domain": [-1.3, 254.6], "nice": false, "zero": false}},
            "y": {"datum": 1.052, "type": "quantitative", "scale": {"domain": [-1.128, 1.163], "nice": false, "zero": false}},
            "text": {"field": "t"}
          }
        },
        {
          "data": {"values": [{"t": "© 2014 NinjaTrader, LLC"}]},
          "mark": {"type": "text", "align": "left", "baseline": "middle", "font": "Liberation Sans", "fontSize": 11, "color": "#000"},
          "encoding": {
            "x": {"datum": -0.95, "type": "quantitative", "scale": {"domain": [-1.3, 254.6], "nice": false, "zero": false}},
            "y": {"datum": -1.086, "type": "quantitative", "scale": {"domain": [-1.128, 1.163], "nice": false, "zero": false}},
            "text": {"field": "t"}
          }
        },
        {
          "data": {"values": [{"i": 258.0, "v": -0.377, "t": "-0.38"}]},
          "mark": {"type": "point", "shape": "M-1,0L-0.6,-0.36L1,-0.36L1,0.36L-0.6,0.36Z", "size": 1156, "filled": true, "color": "#8B0000", "opacity": 1},
          "encoding": {
            "x": {"field": "i", "type": "quantitative", "scale": {"domain": [-1.3, 254.6], "nice": false, "zero": false}},
            "y": {"field": "v", "type": "quantitative", "scale": {"domain": [-1.128, 1.163], "nice": false, "zero": false}}
          }
        },
        {
          "data": {"values": [{"i": 258.5, "v": -0.984, "t": "-0.987"}]},
          "mark": {"type": "point", "shape": "M-1,0L-0.65,-0.33L1,-0.33L1,0.33L-0.65,0.33Z", "size": 1444, "filled": true, "color": "#FF00FF", "opacity": 1},
          "encoding": {
            "x": {"field": "i", "type": "quantitative", "scale": {"domain": [-1.3, 254.6], "nice": false, "zero": false}},
            "y": {"field": "v", "type": "quantitative", "scale": {"domain": [-1.128, 1.163], "nice": false, "zero": false}}
          }
        },
        {
          "data": {"values": [{"i": 258.0, "v": -0.377, "t": "-0.38"}, {"i": 258.5, "v": -0.984, "t": "-0.987"}]},
          "mark": {"type": "text", "color": "#FFFFFF", "font": "Liberation Sans", "fontSize": 12, "dx": 3},
          "encoding": {
            "x": {"field": "i", "type": "quantitative", "scale": {"domain": [-1.3, 254.6], "nice": false, "zero": false}},
            "y": {"field": "v", "type": "quantitative", "scale": {"domain": [-1.128, 1.163], "nice": false, "zero": false}},
            "text": {"field": "t"}
          }
        }
      ]
    }
  ],
  "config": {
    "view": {"stroke": "#000", "strokeWidth": 1},
    "axis": {
      "grid": false,
      "labelFont": "Liberation Sans",
      "labelFontSize": 11,
      "labelColor": "#000",
      "tickColor": "#000",
      "domainColor": "#000",
      "tickSize": 4,
      "labelPadding": 2
    }
  }
}
